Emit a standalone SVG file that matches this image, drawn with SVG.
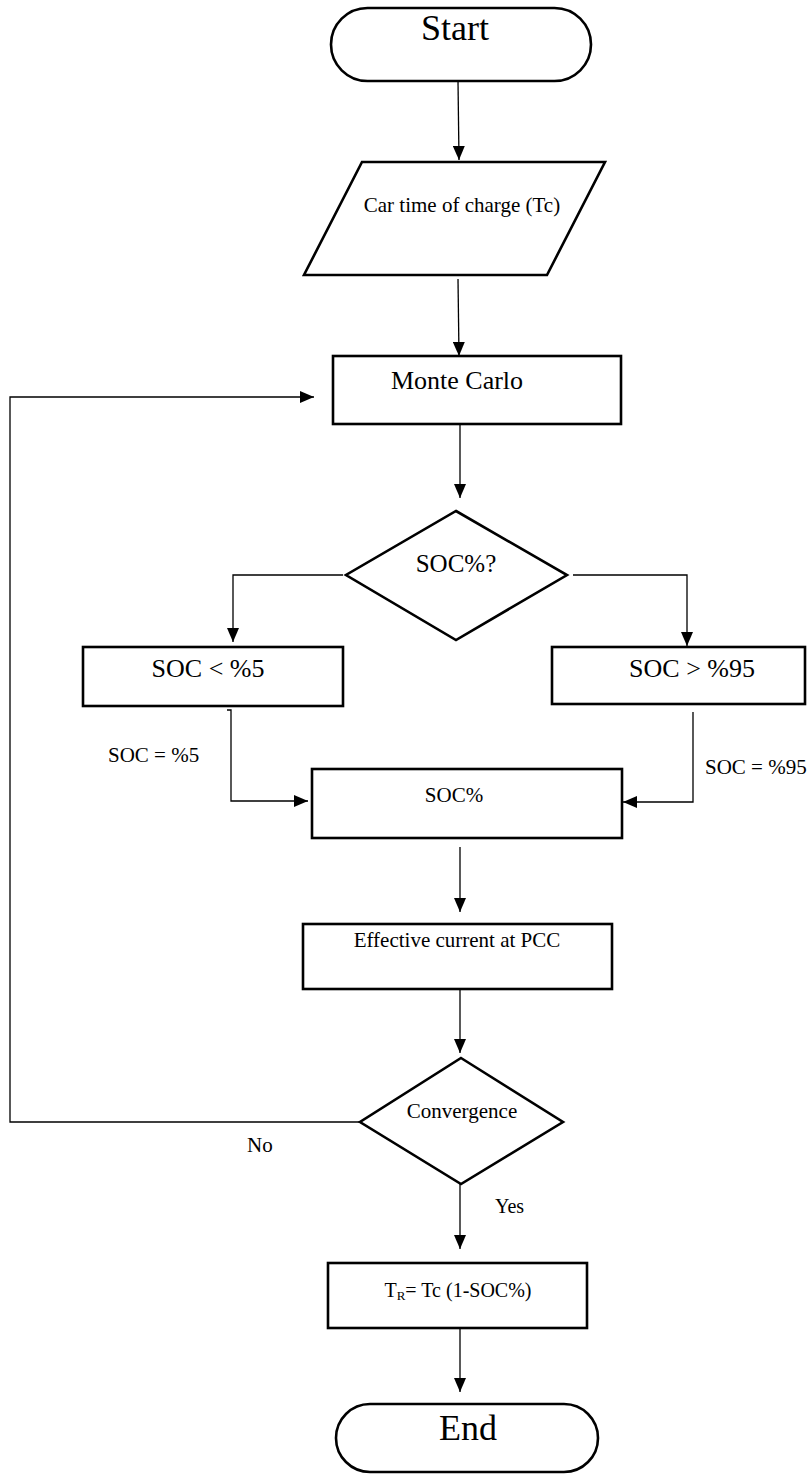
<svg xmlns="http://www.w3.org/2000/svg" width="807" height="1475" viewBox="0 0 807 1475">
<style>
.shape{fill:#fff;stroke:#000;stroke-width:2.6}
.conn{fill:none;stroke:#000;stroke-width:1.3}
text{font-family:"Liberation Serif","Times New Roman",serif;fill:#000}
</style>
<defs>
<marker id="arr" viewBox="0 0 14 12" refX="14" refY="6" markerWidth="14" markerHeight="12" orient="auto" markerUnits="userSpaceOnUse">
<path d="M0,0 L14,6 L0,12 z" fill="#000"/>
</marker>
</defs>
<rect width="807" height="1475" fill="#fff"/>
<g id="connectors">
<path class="conn" d="M458,81 L459,160" marker-end="url(#arr)"/>
<path class="conn" d="M458,279 L459,356" marker-end="url(#arr)"/>
<path class="conn" d="M460,424 L460,498" marker-end="url(#arr)"/>
<path class="conn" d="M343,575 L233,575 L233,642" marker-end="url(#arr)"/>
<path class="conn" d="M573,575 L687,575 L687,646" marker-end="url(#arr)"/>
<path class="conn" d="M227,710 L231,710 L231,801 L308,801" marker-end="url(#arr)"/>
<path class="conn" d="M693,712 L693,802 L623,802" marker-end="url(#arr)"/>
<path class="conn" d="M460,847 L460,912" marker-end="url(#arr)"/>
<path class="conn" d="M460,989 L460,1053" marker-end="url(#arr)"/>
<path class="conn" d="M360,1122 L10,1122 L10,397 L314,397" marker-end="url(#arr)"/>
<path class="conn" d="M460,1184 L460,1249" marker-end="url(#arr)"/>
<path class="conn" d="M460,1328 L460,1392" marker-end="url(#arr)"/>
<text x="247" y="1152" font-size="21">No</text>
<text x="495" y="1213" font-size="20">Yes</text>
<text x="108" y="762" font-size="21">SOC = %5</text>
<text x="705" y="774" font-size="21">SOC = %95</text>
</g>
<g id="start">
<rect class="shape" x="331" y="8" width="260" height="73" rx="36.5" ry="36.5"/>
<text x="455" y="40" font-size="36" text-anchor="middle">Start</text>
</g>
<g id="input">
<polygon class="shape" points="362,162 605,162 547,275 304,275"/>
<text x="462" y="212" font-size="21" text-anchor="middle">Car time of charge  (Tc)</text>
</g>
<g id="montecarlo">
<rect class="shape" x="333" y="356" width="288" height="68"/>
<text x="457" y="389" font-size="26" text-anchor="middle">Monte Carlo</text>
</g>
<g id="soc-decision">
<polygon class="shape" points="456,511 567,575 456,640 346,575"/>
<text x="456" y="572" font-size="25" text-anchor="middle">SOC%?</text>
</g>
<g id="soc-low">
<rect class="shape" x="83" y="647" width="260" height="59"/>
<text x="208" y="677" font-size="26" text-anchor="middle">SOC &lt; %5</text>
</g>
<g id="soc-high">
<rect class="shape" x="552" y="647" width="253" height="57"/>
<text x="692" y="677" font-size="26" text-anchor="middle">SOC &gt; %95</text>
</g>
<g id="soc">
<rect class="shape" x="312" y="769" width="310" height="69"/>
<text x="454" y="802" font-size="21" text-anchor="middle">SOC%</text>
</g>
<g id="effective">
<rect class="shape" x="303" y="924" width="309" height="65"/>
<text x="457" y="947" font-size="21" text-anchor="middle">Effective current at PCC</text>
</g>
<g id="convergence">
<polygon class="shape" points="461,1058 563,1122 461,1184 360,1122"/>
<text x="462" y="1118" font-size="21" text-anchor="middle">Convergence</text>
</g>
<g id="result">
<rect class="shape" x="328" y="1263" width="259" height="65"/>
<text x="458" y="1297" font-size="20" text-anchor="middle">T<tspan font-size="13" dy="3">R</tspan><tspan dy="-3">= Tc (1-SOC%)</tspan></text>
</g>
<g id="end">
<rect class="shape" x="336" y="1404" width="262" height="68" rx="34" ry="34"/>
<text x="468" y="1440" font-size="36" text-anchor="middle">End</text>
</g>
</svg>
